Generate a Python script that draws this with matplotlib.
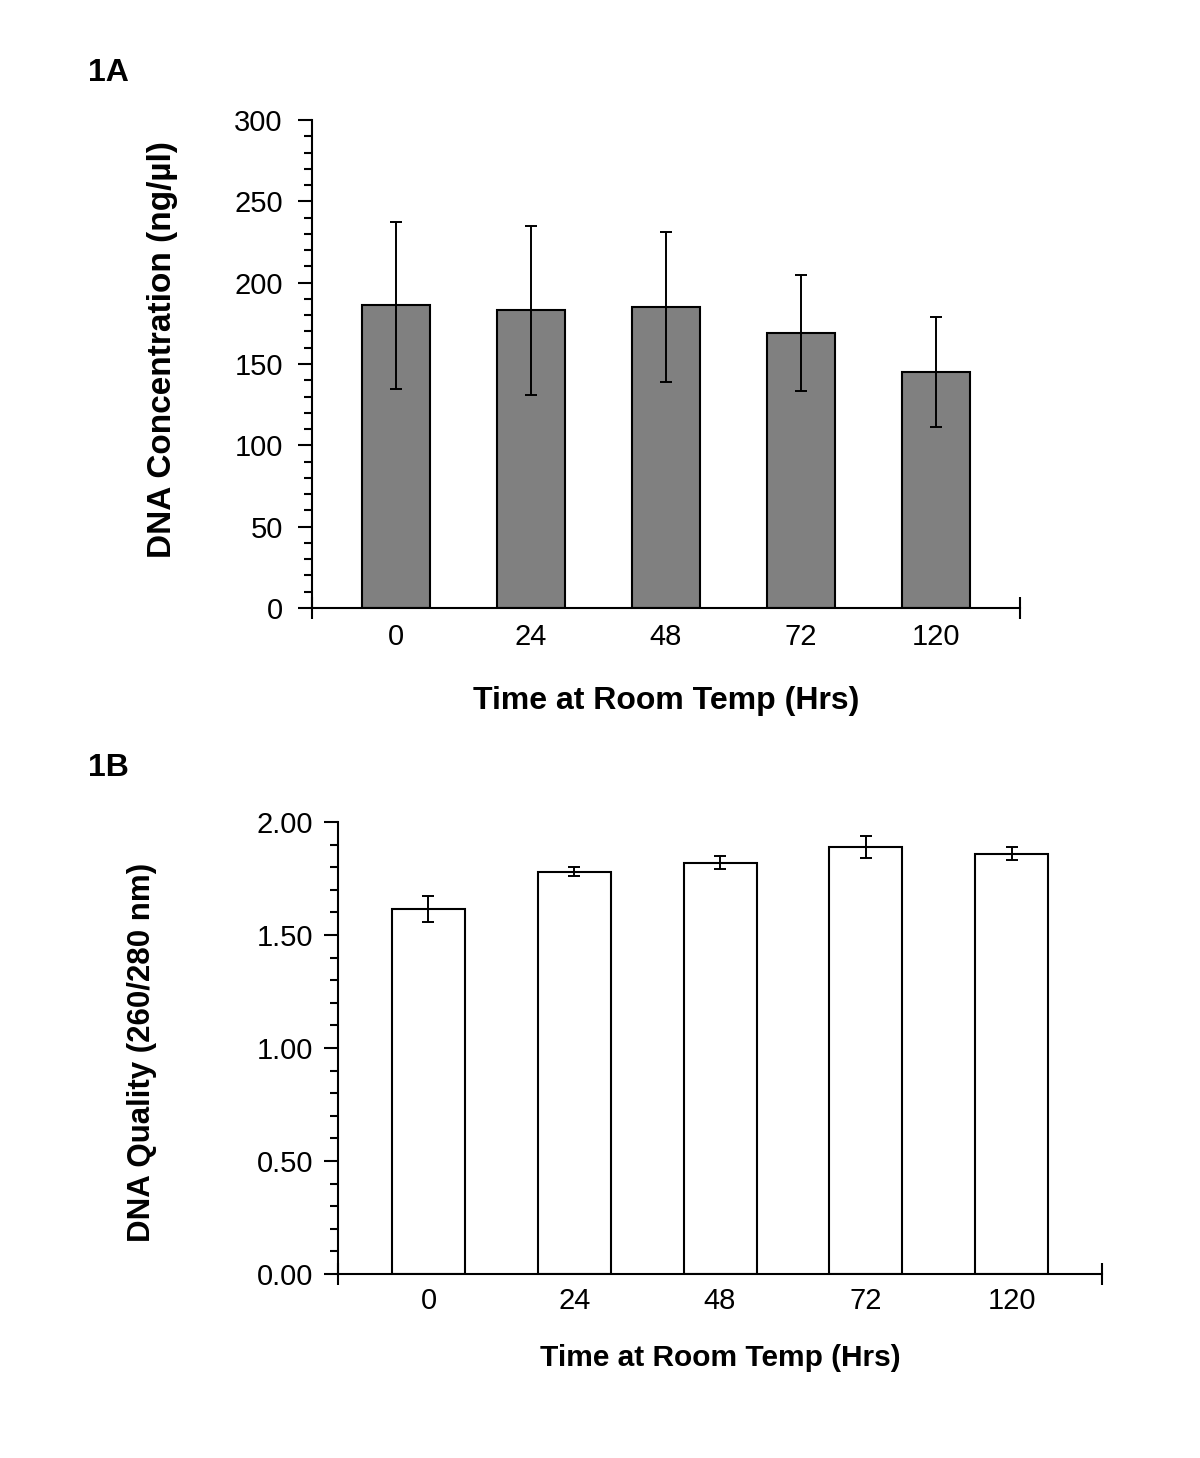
import matplotlib
matplotlib.use("Agg")
import matplotlib.pyplot as plt
from matplotlib.ticker import MultipleLocator
import numpy as np

plt.rcParams['font.family'] = ['Liberation Sans', 'DejaVu Sans']

hours = ['0', '24', '48', '72', '120']

# 1A: DNA concentration (ng/µl), mean and error
conc_mean = [186, 183, 185, 169, 145]
conc_err = [51.5, 52, 46, 35.5, 34]

# 1B: DNA quality (260/280 nm), mean and error
qual_mean = [1.615, 1.780, 1.820, 1.890, 1.860]
qual_err = [0.058, 0.020, 0.028, 0.050, 0.028]

fig = plt.figure(figsize=(12, 14.58), dpi=100)
x = np.arange(len(hours))


def style_axes(ax, ylim, major, minor, fmt, tsize, ypad, xpad):
    ax.set_xlim(-0.62, 4.62)
    ax.set_ylim(*ylim)
    for s in ['top', 'right']:
        ax.spines[s].set_visible(False)
    for s in ['left', 'bottom']:
        ax.spines[s].set_linewidth(1.5)
    ax.yaxis.set_major_locator(MultipleLocator(major))
    ax.yaxis.set_minor_locator(MultipleLocator(minor))
    ax.yaxis.set_major_formatter(fmt)
    ax.tick_params(axis='y', which='major', length=10, width=1.5, labelsize=tsize, pad=ypad)
    ax.tick_params(axis='y', which='minor', length=6, width=1.5)
    ax.set_xticks(x)
    ax.set_xticklabels(hours)
    ax.tick_params(axis='x', which='major', length=0, labelsize=tsize, pad=xpad)
    # boundary ticks at the ends of the category axis
    ax.set_xticks([-0.62, 4.62], minor=True)
    ax.tick_params(axis='x', which='minor', direction='inout', length=16, width=1.5)


# Panel A
axA = fig.add_axes([0.26, 0.583, 0.59, 0.3347])
axA.bar(x, conc_mean, width=0.5, color='#808080', edgecolor='black', linewidth=1.5,
        yerr=conc_err, error_kw=dict(ecolor='black', elinewidth=1.4, capsize=4, capthick=1.4))
style_axes(axA, (0, 300), 50, 10, '{x:.0f}', 21, 11, 11)
axA.set_ylabel('DNA Concentration (ng/µl)', fontsize=24, fontweight='bold')
axA.yaxis.set_label_coords(-0.189, 0.529)
axA.set_xlabel('Time at Room Temp (Hrs)', fontsize=23, fontweight='bold', labelpad=25)
fig.text(0.073, 0.95, '1A', fontsize=23, fontweight='bold', va='center', ha='left')

# Panel B
axB = fig.add_axes([0.2817, 0.1262, 0.6367, 0.31])
axB.bar(x, qual_mean, width=0.5, color='white', edgecolor='black', linewidth=1.5,
        yerr=qual_err, error_kw=dict(ecolor='black', elinewidth=1.4, capsize=4, capthick=1.4))
style_axes(axB, (0, 2.0), 0.5, 0.1, '{x:.2f}', 21, 8, 9)
axB.set_ylabel('DNA Quality (260/280 nm)', fontsize=22.5, fontweight='bold')
axB.yaxis.set_label_coords(-0.237, 0.49)
axB.set_xlabel('Time at Room Temp (Hrs)', fontsize=21.5, fontweight='bold', labelpad=21)
fig.text(0.073, 0.473, '1B', fontsize=23, fontweight='bold', va='center', ha='left')

fig.savefig('out.png', dpi=100, facecolor='white')
